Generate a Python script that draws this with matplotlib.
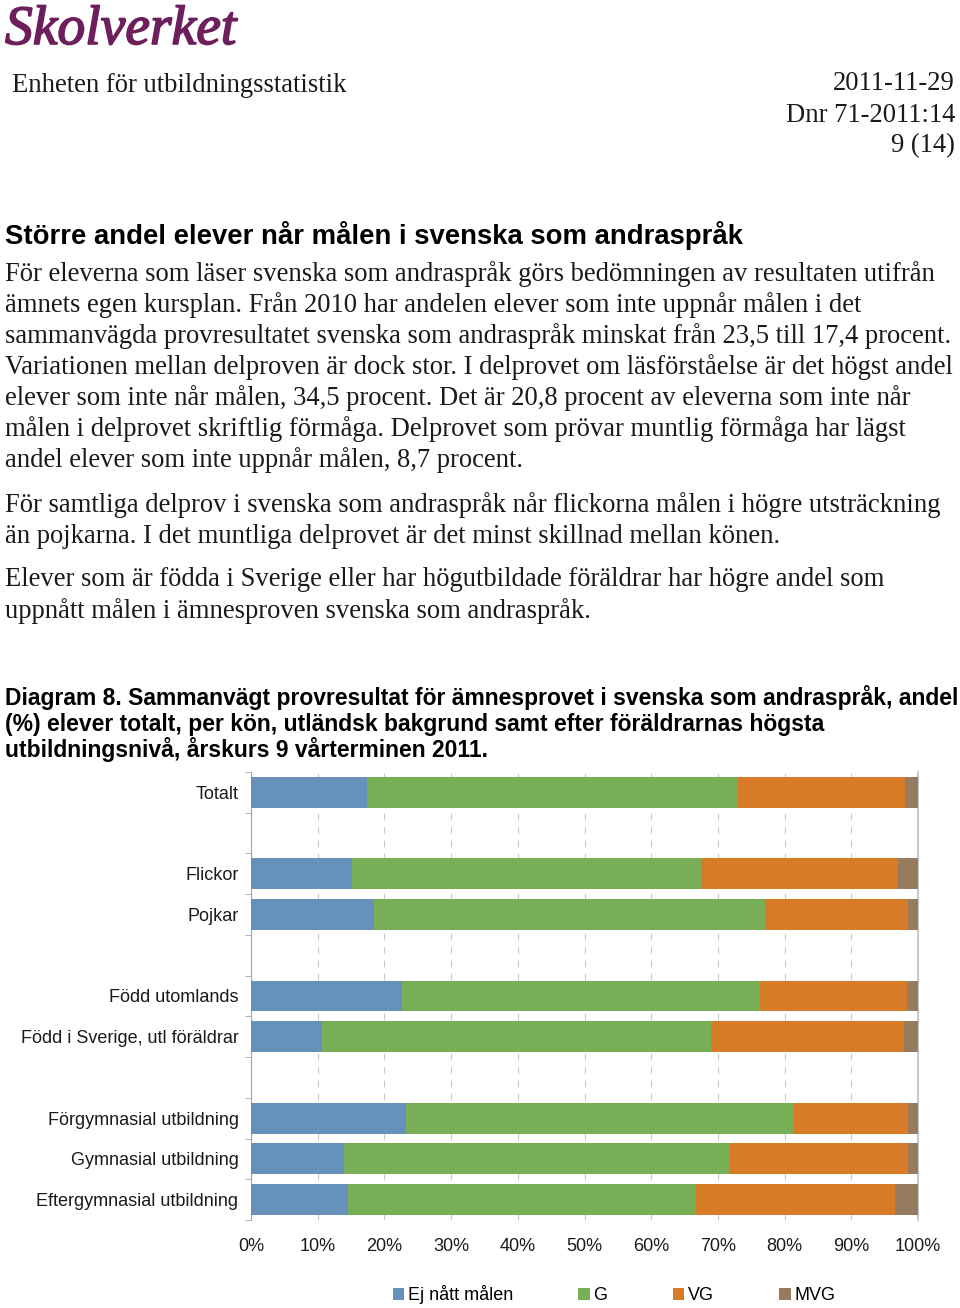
import numpy as np
import matplotlib.pyplot as plt
import matplotlib.patheffects as pe
from matplotlib.patches import Patch

# Sidans mått i pixlar
W, H = 960, 1308

# Diagramdata, andel (%)
grupper = [["Totalt"],
           ["Flickor", "Pojkar"],
           ["Född utomlands", "Född i Sverige, utl föräldrar"],
           ["Förgymnasial utbildning", "Gymnasial utbildning", "Eftergymnasial utbildning"]]
ej_natt = [17.4, 15.2, 18.5, 22.7, 10.7, 23.2, 14.0, 14.5]
g = [55.4, 52.3, 58.5, 53.6, 58.2, 58.1, 57.8, 52.2]
vg = [25.3, 29.5, 21.5, 22.0, 29.0, 17.2, 26.7, 29.8]
mvg = [1.9, 3.0, 1.5, 1.7, 2.1, 1.5, 1.5, 3.5]
serier = ["Ej nått målen", "G", "VG", "MVG"]
farger = ["#6591bb", "#77ae56", "#d87b26", "#967b5e"]
xticks = [0, 10, 20, 30, 40, 50, 60, 70, 80, 90, 100]

# Texter på sidan
rubrik = "Större andel elever når målen i svenska som andraspråk"
stycke1 = ["För eleverna som läser svenska som andraspråk görs bedömningen av resultaten utifrån",
           "ämnets egen kursplan. Från 2010 har andelen elever som inte uppnår målen i det",
           "sammanvägda provresultatet svenska som andraspråk minskat från 23,5 till 17,4 procent.",
           "Variationen mellan delproven är dock stor. I delprovet om läsförståelse är det högst andel",
           "elever som inte når målen, 34,5 procent. Det är 20,8 procent av eleverna som inte når",
           "målen i delprovet skriftlig förmåga. Delprovet som prövar muntlig förmåga har lägst",
           "andel elever som inte uppnår målen, 8,7 procent."]
stycke2 = ["För samtliga delprov i svenska som andraspråk når flickorna målen i högre utsträckning",
           "än pojkarna. I det muntliga delprovet är det minst skillnad mellan könen."]
stycke3 = ["Elever som är födda i Sverige eller har högutbildade föräldrar har högre andel som",
           "uppnått målen i ämnesproven svenska som andraspråk."]
diagramtitel = ["Diagram 8. Sammanvägt provresultat för ämnesprovet i svenska som andraspråk, andel",
                "(%) elever totalt, per kön, utländsk bakgrund samt efter föräldrarnas högsta",
                "utbildningsnivå, årskurs 9 vårterminen 2011."]
sidhuvud_h = ["2011-11-29", "Dnr 71-2011:14", "9 (14)"]

serif = ["Liberation Serif", "DejaVu Serif"]
sans = ["Liberation Sans", "DejaVu Sans"]
textfarg = "#1a1a1a"


def px(x, y):
    return x / W, 1 - y / H


fig = plt.figure(figsize=(W / 100, H / 100), dpi=100)

# Logga och sidhuvud
logga = "#6d1f5c"
fig.text(*px(5, 44), "Skolverket", family=serif, style="italic", fontsize=40,
         color=logga, va="baseline", ha="left",
         path_effects=[pe.withStroke(linewidth=1.2, foreground=logga)])
fig.text(*px(12, 85), "Enheten för utbildningsstatistik", family=serif, fontsize=19.2,
         color=textfarg, va="center")
for i, rad in enumerate(sidhuvud_h):
    fig.text(*px(955, 84 + 31 * i), rad, family=serif, fontsize=19.2,
             color=textfarg, va="center", ha="right")

# Rubrik och brödtext
fig.text(*px(5, 236), rubrik, family=sans, weight="bold", fontsize=19.8,
         color="black", va="center")
for start, stycke in [(274, stycke1), (505, stycke2), (580, stycke3)]:
    for i, rad in enumerate(stycke):
        fig.text(*px(5, start + 31 * i), rad, family=serif, fontsize=19.2,
                 color=textfarg, va="center")

for i, rad in enumerate(diagramtitel):
    fig.text(*px(5, 698 + 26 * i), rad, family=sans, weight="bold", fontsize=16.5,
             color="black", va="center")

# Positioner med tom rad mellan grupperna
pos = []
etiketter = []
k = 0
for grp in grupper:
    for lab in grp:
        pos.append(k)
        etiketter.append(lab)
        k += 1
    k += 1
antal = k - 1

ax = fig.add_axes([251 / W, 1 - 1220 / H, (918 - 251) / W, (1220 - 772) / H])
vanster = np.zeros(len(pos))
for namn, varden, farg in zip(serier, [ej_natt, g, vg, mvg], farger):
    ax.barh(pos, varden, left=vanster, height=0.76, color=farg, linewidth=0, label=namn, zorder=3)
    vanster = vanster + np.array(varden)

ax.set_xlim(0, 100)
ax.set_ylim(antal - 0.5, -0.5)
ax.set_xticks(xticks)
ax.set_xticklabels([f"{t}%" for t in xticks], family=sans, fontsize=13)
ax.tick_params(axis="x", length=0, pad=13, colors="#1a1a1a")
ax.set_yticks(pos)
ax.set_yticklabels(etiketter, family=sans, fontsize=13)
ax.tick_params(axis="y", length=0, pad=9, colors="#1a1a1a")
ax.set_yticks(np.arange(antal + 1) - 0.5, minor=True)
ax.tick_params(axis="y", which="minor", length=4, color="#a6a6a6", direction="out")
ax.grid(axis="x", linestyle=(0, (6, 6)), color="#c8c8c8", linewidth=0.8, zorder=0)
for s in ["top", "bottom"]:
    ax.spines[s].set_visible(False)
ax.spines["left"].set_color("#a6a6a6")
ax.spines["right"].set_color("#bfbfbf")
ax.spines["right"].set_linewidth(1.2)

handtag = [Patch(facecolor=f, edgecolor="none") for f in farger]
fig.legend(handtag, serier, loc="center", bbox_to_anchor=px(614, 1295), ncol=4,
           frameon=False, prop={"family": sans, "size": 13}, handlelength=0.65,
           handleheight=0.65, handletextpad=0.2, columnspacing=3.6)

fig.savefig("out.png", dpi=100, facecolor="white")
